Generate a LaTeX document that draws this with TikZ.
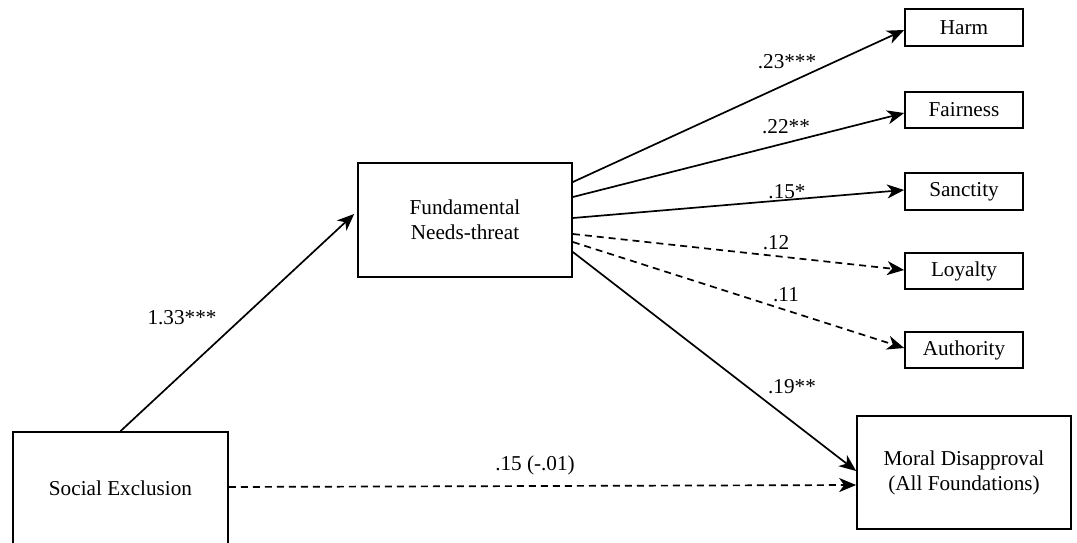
\documentclass[tikz,border=0pt]{standalone}
\usepackage{fontspec}
\setmainfont{Liberation Serif}
\usetikzlibrary{arrows.meta}
\tikzset{
  box/.style={draw=black, line width=1.7pt, inner sep=0pt, align=center, font=\fontsize{21.2}{25}\selectfont},
  conn/.style={line width=1.7pt, -{Stealth[length=17pt,width=14pt,inset=5pt]}},
  dashconn/.style={conn, dash pattern=on 7pt off 5pt},
  lab/.style={font=\fontsize{21.2}{25}\selectfont, inner sep=0pt}
}
\begin{document}
\begin{tikzpicture}[x=1pt,y=-1pt]
\useasboundingbox (0,0) rectangle (1077,543);
\node[box, minimum width=215pt, minimum height=112pt] (SE) at (120.5,488) {Social Exclusion};
\node[box, minimum width=214pt, minimum height=114pt] (FN) at (465,220) {Fundamental\\Needs-threat};
\node[box, minimum width=118pt, minimum height=37pt] (H) at (964,27.5) {Harm};
\node[box, minimum width=118pt, minimum height=36pt] (F) at (964,110) {Fairness};
\node[box, minimum width=118pt, minimum height=37pt] (S) at (964,191.5) {Sanctity};
\node[box, minimum width=118pt, minimum height=36pt] (L) at (964,271) {Loyalty};
\node[box, minimum width=118pt, minimum height=36pt] (A) at (964,350) {Authority};
\node[box, minimum width=214pt, minimum height=113pt] (M) at (964,472.5) {Moral Disapproval\\(All Foundations)};

\draw[conn] (SE.north) -- ([xshift=-3pt,yshift=6pt]FN.west);
\draw[conn] ([yshift=38pt]FN.east) -- ([yshift=-2.5pt]H.west);
\draw[conn] ([yshift=23pt]FN.east) -- ([yshift=-3pt]F.west);
\draw[conn] ([yshift=2pt]FN.east) -- ([yshift=1.5pt]S.west);
\draw[dashconn] ([yshift=-14pt]FN.east) -- ([yshift=1pt]L.west);
\draw[dashconn] ([yshift=-22pt]FN.east) -- ([yshift=2pt]A.west);
\draw[conn] ([yshift=-32pt]FN.east) -- ([yshift=1.5pt]M.west);
\draw[dashconn] ([yshift=1pt]SE.east) -- ([yshift=-12.5pt]M.west);

\node[lab] (l1) at (182,318) {1.33***};
\node[lab] (l2) at (787,62) {.23***};
\node[lab] (l3) at (786,127) {.22**};
\node[lab] (l4) at (787,192) {.15*};
\node[lab] (l5) at (776,243) {.12};
\node[lab] (l6) at (786,295) {.11};
\node[lab] (l7) at (792,387) {.19**};
\node[lab] (l8) at (535,465) {.15 (-.01)};
\end{tikzpicture}
\end{document}
